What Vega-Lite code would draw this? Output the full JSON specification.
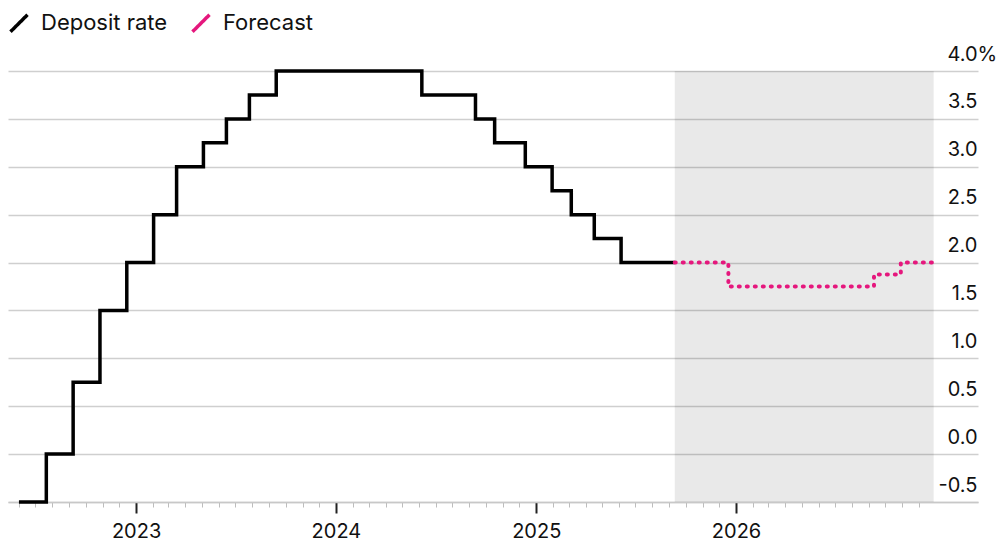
{
  "$schema": "https://vega.github.io/schema/vega-lite/v6.json",
  "width": 970,
  "height": 431,
  "autosize": {"type": "none"},
  "padding": {"left": 8, "top": 71, "right": 22, "bottom": 43},
  "background": "white",
  "config": {
    "view": {"stroke": null},
    "font": "Inter",
    "axis": {"labelFont": "Inter", "labelColor": "#111", "labelFontSize": 20}
  },
  "datasets": {
    "rates": [
      {"series": "Deposit rate", "date": "2022-06-01", "rate": -0.5},
      {"series": "Deposit rate", "date": "2022-07-21", "rate": 0.0},
      {"series": "Deposit rate", "date": "2022-09-08", "rate": 0.75},
      {"series": "Deposit rate", "date": "2022-10-27", "rate": 1.5},
      {"series": "Deposit rate", "date": "2022-12-15", "rate": 2.0},
      {"series": "Deposit rate", "date": "2023-02-02", "rate": 2.5},
      {"series": "Deposit rate", "date": "2023-03-16", "rate": 3.0},
      {"series": "Deposit rate", "date": "2023-05-04", "rate": 3.25},
      {"series": "Deposit rate", "date": "2023-06-15", "rate": 3.5},
      {"series": "Deposit rate", "date": "2023-07-27", "rate": 3.75},
      {"series": "Deposit rate", "date": "2023-09-14", "rate": 4.0},
      {"series": "Deposit rate", "date": "2024-06-06", "rate": 3.75},
      {"series": "Deposit rate", "date": "2024-09-12", "rate": 3.5},
      {"series": "Deposit rate", "date": "2024-10-17", "rate": 3.25},
      {"series": "Deposit rate", "date": "2024-12-12", "rate": 3.0},
      {"series": "Deposit rate", "date": "2025-01-30", "rate": 2.75},
      {"series": "Deposit rate", "date": "2025-03-06", "rate": 2.5},
      {"series": "Deposit rate", "date": "2025-04-17", "rate": 2.25},
      {"series": "Deposit rate", "date": "2025-06-05", "rate": 2.0},
      {"series": "Deposit rate", "date": "2025-09-11", "rate": 2.0},
      {"series": "Forecast", "date": "2025-09-11", "rate": 2.0},
      {"series": "Forecast", "date": "2025-12-18", "rate": 1.75},
      {"series": "Forecast", "date": "2026-09-10", "rate": 1.875},
      {"series": "Forecast", "date": "2026-10-29", "rate": 2.0},
      {"series": "Forecast", "date": "2026-12-28", "rate": 2.0}
    ],
    "band": [
      {"start": "2025-09-11", "end": "2026-12-28"}
    ]
  },
  "layer": [
    {
      "data": {"name": "band"},
      "mark": {"type": "rect", "color": "#000", "opacity": 0.085},
      "encoding": {
        "x": {
          "field": "start", "type": "temporal",
          "scale": {"type": "utc", "domain": [{"year": 2022, "month": 5, "date": 12, "utc": true}, {"year": 2027, "month": 3, "date": 19, "utc": true}]},
          "axis": {
            "title": null,
            "orient": "bottom",
            "grid": false,
            "domain": true,
            "domainColor": "#c8c8c8",
            "domainWidth": 1.5,
            "tickCount": 200,
            "values": [
              {"year": 2022, "month": 6, "date": 1, "utc": true}, {"year": 2022, "month": 7, "date": 1, "utc": true}, {"year": 2022, "month": 8, "date": 1, "utc": true}, {"year": 2022, "month": 9, "date": 1, "utc": true}, {"year": 2022, "month": 10, "date": 1, "utc": true}, {"year": 2022, "month": 11, "date": 1, "utc": true}, {"year": 2022, "month": 12, "date": 1, "utc": true},
              {"year": 2023, "month": 1, "date": 1, "utc": true}, {"year": 2023, "month": 2, "date": 1, "utc": true}, {"year": 2023, "month": 3, "date": 1, "utc": true}, {"year": 2023, "month": 4, "date": 1, "utc": true}, {"year": 2023, "month": 5, "date": 1, "utc": true}, {"year": 2023, "month": 6, "date": 1, "utc": true}, {"year": 2023, "month": 7, "date": 1, "utc": true}, {"year": 2023, "month": 8, "date": 1, "utc": true}, {"year": 2023, "month": 9, "date": 1, "utc": true}, {"year": 2023, "month": 10, "date": 1, "utc": true}, {"year": 2023, "month": 11, "date": 1, "utc": true}, {"year": 2023, "month": 12, "date": 1, "utc": true},
              {"year": 2024, "month": 1, "date": 1, "utc": true}, {"year": 2024, "month": 2, "date": 1, "utc": true}, {"year": 2024, "month": 3, "date": 1, "utc": true}, {"year": 2024, "month": 4, "date": 1, "utc": true}, {"year": 2024, "month": 5, "date": 1, "utc": true}, {"year": 2024, "month": 6, "date": 1, "utc": true}, {"year": 2024, "month": 7, "date": 1, "utc": true}, {"year": 2024, "month": 8, "date": 1, "utc": true}, {"year": 2024, "month": 9, "date": 1, "utc": true}, {"year": 2024, "month": 10, "date": 1, "utc": true}, {"year": 2024, "month": 11, "date": 1, "utc": true}, {"year": 2024, "month": 12, "date": 1, "utc": true},
              {"year": 2025, "month": 1, "date": 1, "utc": true}, {"year": 2025, "month": 2, "date": 1, "utc": true}, {"year": 2025, "month": 3, "date": 1, "utc": true}, {"year": 2025, "month": 4, "date": 1, "utc": true}, {"year": 2025, "month": 5, "date": 1, "utc": true}, {"year": 2025, "month": 6, "date": 1, "utc": true}, {"year": 2025, "month": 7, "date": 1, "utc": true}, {"year": 2025, "month": 8, "date": 1, "utc": true}, {"year": 2025, "month": 9, "date": 1, "utc": true}, {"year": 2025, "month": 10, "date": 1, "utc": true}, {"year": 2025, "month": 11, "date": 1, "utc": true}, {"year": 2025, "month": 12, "date": 1, "utc": true},
              {"year": 2026, "month": 1, "date": 1, "utc": true}, {"year": 2026, "month": 2, "date": 1, "utc": true}, {"year": 2026, "month": 3, "date": 1, "utc": true}, {"year": 2026, "month": 4, "date": 1, "utc": true}, {"year": 2026, "month": 5, "date": 1, "utc": true}, {"year": 2026, "month": 6, "date": 1, "utc": true}, {"year": 2026, "month": 7, "date": 1, "utc": true}, {"year": 2026, "month": 8, "date": 1, "utc": true}, {"year": 2026, "month": 9, "date": 1, "utc": true}, {"year": 2026, "month": 10, "date": 1, "utc": true}, {"year": 2026, "month": 11, "date": 1, "utc": true}, {"year": 2026, "month": 12, "date": 1, "utc": true}
            ],
            "labelExpr": "utcmonth(datum.value) == 0 ? utcFormat(datum.value, '%Y') : ''",
            "labelFlush": false,
            "labelOverlap": false,
            "labelPadding": 8,
            "tickSize": {"condition": {"test": "utcmonth(datum.value) == 0", "value": 11}, "value": 5},
            "tickColor": {"condition": {"test": "utcmonth(datum.value) == 0", "value": "#222"}, "value": "#bdbdbd"},
            "tickWidth": {"condition": {"test": "utcmonth(datum.value) == 0", "value": 2}, "value": 1}
          }
        },
        "x2": {"field": "end"}
      }
    },
    {
      "mark": {"type": "rule", "color": "#000", "strokeWidth": 1.5},
      "encoding": {"y": {"datum": 0}}
    },
    {
      "data": {"name": "rates"},
      "transform": [{"filter": "datum.series == 'Deposit rate'"}],
      "mark": {"type": "line", "interpolate": "step-after", "strokeWidth": 3.5, "strokeCap": "butt"},
      "encoding": {
        "x": {"field": "date", "type": "temporal"},
        "y": {
          "field": "rate", "type": "quantitative",
          "scale": {"domain": [-0.5, 4.0], "nice": false, "zero": false},
          "axis": {
            "title": null,
            "orient": "right",
            "values": [-0.5, 0, 0.5, 1, 1.5, 2, 2.5, 3, 3.5, 4],
            "grid": true,
            "gridColor": "#cfcfcf",
            "gridWidth": 1.5,
            "domain": false,
            "ticks": false,
            "labelAlign": {"condition": {"test": "datum.value == 4", "value": "left"}, "value": "right"},
            "labelPadding": {"condition": {"test": "datum.value == 4", "value": -31}, "value": -1},
            "labelBaseline": "alphabetic",
            "labelOffset": -11,
            "labelExpr": "datum.value == 4 ? '4.0%' : (datum.value < 0 ? '-' + format(-datum.value, '.1f') : format(datum.value, '.1f'))"
          }
        },
        "color": {
          "field": "series", "type": "nominal",
          "scale": {"domain": ["Deposit rate", "Forecast"], "range": ["#000000", "#e5177d"]},
          "legend": {
            "title": null,
            "orient": "none",
            "legendX": 0,
            "legendY": -59,
            "direction": "horizontal",
            "symbolType": "M-1,1L1,-1",
            "symbolSize": 289,
            "symbolStrokeWidth": 3.5,
            "symbolDash": [1, 0],
            "labelFontSize": 22,
            "labelFont": "Inter",
            "labelColor": "#111",
            "labelOffset": 11,
            "columnPadding": 17
          }
        }
      }
    },
    {
      "data": {"name": "rates"},
      "transform": [{"filter": "datum.series == 'Forecast'"}],
      "mark": {"type": "line", "interpolate": "step-after", "strokeWidth": 4, "strokeCap": "round", "strokeDash": [1, 7]},
      "encoding": {
        "x": {"field": "date", "type": "temporal"},
        "y": {"field": "rate", "type": "quantitative"},
        "color": {"field": "series", "type": "nominal"}
      }
    }
  ]
}
